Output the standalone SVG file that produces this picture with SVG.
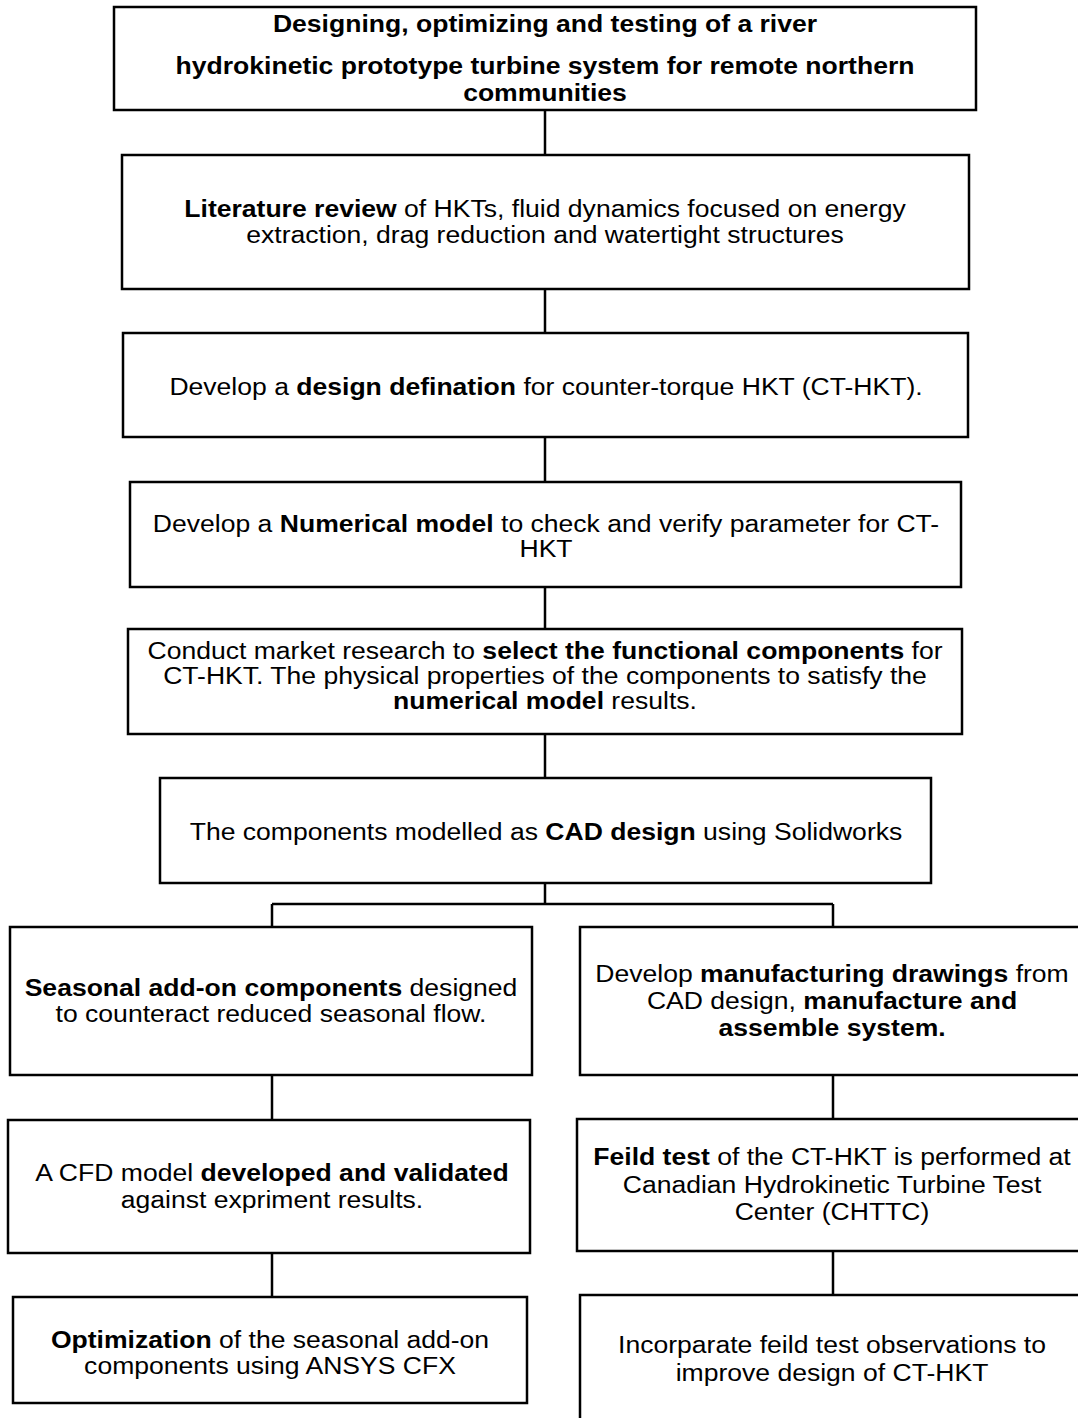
<svg xmlns="http://www.w3.org/2000/svg" width="1078" height="1418" viewBox="0 0 1078 1418">
<style>
.box{fill:#fff;stroke:#000;stroke-width:2.5}
.con{stroke:#000;stroke-width:2.5;fill:none}
text{font-family:"Liberation Sans",Arial,sans-serif;font-size:23.5px;fill:#000;text-anchor:middle}
.b{font-weight:bold}
</style>
<rect width="1078" height="1418" fill="#fff"/>
<g id="connectors">
<path class="con" d="M545 110V155M545 289V333M545 437V482M545 587V629M545 734V778M545 883V904M272 904H833M272 904V927M833 904V927M272 1075V1120M833 1075V1119M272 1253V1297M833 1251V1295"/>
</g>
<g id="n1">
<rect class="box" x="114" y="7" width="862" height="103"/>
<text class="b" transform="translate(545 0) scale(1.13 1)" x="0" y="32">Designing, optimizing and testing of a river</text>
<text class="b" transform="translate(545 0) scale(1.13 1)" x="0" y="74">hydrokinetic prototype turbine system for remote northern</text>
<text class="b" transform="translate(545 0) scale(1.13 1)" x="0" y="101">communities</text>
</g>
<g id="n2">
<rect class="box" x="122" y="155" width="847" height="134"/>
<text transform="translate(545 0) scale(1.13 1)" x="0" y="217"><tspan class="b">Literature review</tspan> of HKTs, fluid dynamics focused on energy</text>
<text transform="translate(545 0) scale(1.13 1)" x="0" y="243">extraction, drag reduction and watertight structures</text>
</g>
<g id="n3">
<rect class="box" x="123" y="333" width="845" height="104"/>
<text transform="translate(546 0) scale(1.13 1)" x="0" y="395">Develop a <tspan class="b">design defination</tspan> for counter-torque HKT (CT-HKT).</text>
</g>
<g id="n4">
<rect class="box" x="130" y="482" width="831" height="105"/>
<text transform="translate(546 0) scale(1.13 1)" x="0" y="532">Develop a <tspan class="b">Numerical model</tspan> to check and verify parameter for CT-</text>
<text transform="translate(546 0) scale(1.13 1)" x="0" y="557">HKT</text>
</g>
<g id="n5">
<rect class="box" x="128" y="629" width="834" height="105"/>
<text transform="translate(545 0) scale(1.13 1)" x="0" y="659">Conduct market research to <tspan class="b">select the functional components</tspan> for</text>
<text transform="translate(545 0) scale(1.13 1)" x="0" y="684">CT-HKT. The physical properties of the components to satisfy the</text>
<text transform="translate(545 0) scale(1.13 1)" x="0" y="709"><tspan class="b">numerical model</tspan> results.</text>
</g>
<g id="n6">
<rect class="box" x="160" y="778" width="771" height="105"/>
<text transform="translate(546 0) scale(1.13 1)" x="0" y="840">The components modelled as <tspan class="b">CAD design</tspan> using Solidworks</text>
</g>
<g id="n7">
<rect class="box" x="10" y="927" width="522" height="148"/>
<text transform="translate(271 0) scale(1.13 1)" x="0" y="996"><tspan class="b">Seasonal add-on components</tspan> designed</text>
<text transform="translate(271 0) scale(1.13 1)" x="0" y="1022">to counteract reduced seasonal flow.</text>
</g>
<g id="n8">
<rect class="box" x="580" y="927" width="510" height="148"/>
<text transform="translate(832 0) scale(1.13 1)" x="0" y="982">Develop <tspan class="b">manufacturing drawings</tspan> from</text>
<text transform="translate(832 0) scale(1.13 1)" x="0" y="1009">CAD design, <tspan class="b">manufacture and</tspan></text>
<text class="b" transform="translate(832 0) scale(1.13 1)" x="0" y="1036">assemble system.</text>
</g>
<g id="n9">
<rect class="box" x="8" y="1120" width="522" height="133"/>
<text transform="translate(272 0) scale(1.13 1)" x="0" y="1181">A CFD model <tspan class="b">developed and validated</tspan></text>
<text transform="translate(272 0) scale(1.13 1)" x="0" y="1208">against expriment results.</text>
</g>
<g id="n10">
<rect class="box" x="577" y="1119" width="513" height="132"/>
<text transform="translate(832 0) scale(1.13 1)" x="0" y="1165"><tspan class="b">Feild test</tspan> of the CT-HKT is performed at</text>
<text transform="translate(832 0) scale(1.13 1)" x="0" y="1193">Canadian Hydrokinetic Turbine Test</text>
<text transform="translate(832 0) scale(1.13 1)" x="0" y="1220">Center (CHTTC)</text>
</g>
<g id="n11">
<rect class="box" x="13" y="1297" width="514" height="106"/>
<text transform="translate(270 0) scale(1.13 1)" x="0" y="1348"><tspan class="b">Optimization</tspan> of the seasonal add-on</text>
<text transform="translate(270 0) scale(1.13 1)" x="0" y="1374">components using ANSYS CFX</text>
</g>
<g id="n12">
<rect class="box" x="580" y="1295" width="510" height="140"/>
<text transform="translate(832 0) scale(1.13 1)" x="0" y="1353">Incorparate feild test observations to</text>
<text transform="translate(832 0) scale(1.13 1)" x="0" y="1381">improve design of CT-HKT</text>
</g>
</svg>
